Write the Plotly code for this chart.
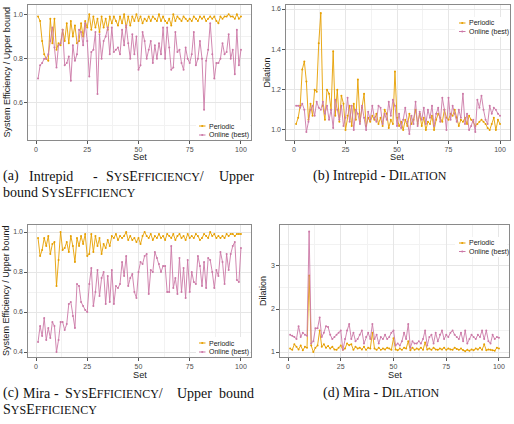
import plotly.graph_objects as go

W, H = 514, 424

sets = list(range(1, 101))

a_periodic = [0.99, 0.97, 0.88, 0.82, 0.80, 0.79, 0.98, 0.87, 0.98, 0.84,
              0.87, 0.86, 0.93, 0.88, 0.96, 0.87, 0.97, 0.90, 0.95, 0.87,
              0.88, 0.96, 0.90, 0.97, 0.94, 1.00, 0.93, 0.99, 0.94, 0.98,
              0.92, 0.99, 0.94, 0.98, 0.93, 0.99, 0.96, 0.99, 0.97, 0.95,
              0.99, 0.96, 1.00, 0.94, 0.99, 0.95, 0.99, 0.97, 1.00, 0.97,
              0.99, 0.96, 0.98, 0.97, 0.99, 0.97, 0.99, 0.98, 0.97, 1.00,
              0.97, 0.99, 0.97, 0.96, 0.98, 0.95, 1.00, 0.97, 0.99, 0.98,
              0.97, 0.99, 0.98, 0.97, 0.98, 0.97, 0.99, 0.98, 0.97, 0.99,
              0.98, 0.99, 0.97, 0.98, 0.99, 0.98, 0.99, 0.97, 0.96, 0.99,
              0.98, 0.99, 0.99, 1.00, 0.99, 0.99, 0.98, 1.00, 0.98, 0.99]
a_online = [0.71, 0.77, 0.78, 0.80, 0.80, 0.82, 0.88, 0.94, 0.85, 0.76,
            0.86, 0.87, 0.93, 0.77, 0.78, 0.81, 0.70, 0.86, 0.79, 0.82,
            0.93, 0.92, 0.86, 0.96, 0.88, 0.72, 0.83, 0.84, 0.92, 0.64,
            0.91, 0.80, 0.88, 0.90, 0.94, 0.82, 0.94, 0.83, 0.84, 0.85,
            0.82, 0.93, 0.86, 0.95, 0.87, 0.80, 0.91, 0.82, 0.90, 0.75,
            0.77, 0.92, 0.88, 0.80, 0.84, 0.88, 0.78, 0.86, 0.80, 0.87,
            0.82, 0.94, 0.80, 0.94, 0.85, 0.75, 0.76, 0.92, 0.83, 0.84,
            0.78, 0.75, 0.85, 0.80, 0.78, 0.82, 0.92, 0.77, 0.80, 0.88,
            0.80, 0.57, 0.79, 0.84, 0.96, 0.82, 0.71, 0.78, 0.78, 0.80,
            0.87, 0.82, 0.83, 0.91, 0.80, 0.84, 0.73, 0.93, 0.77, 0.84]

b_periodic = [1.03, 1.06, 1.12, 1.30, 1.34, 1.24, 1.05, 1.13, 1.07, 1.20,
              1.19, 1.43, 1.58, 1.12, 1.05, 1.20, 1.18, 1.10, 1.39, 1.07,
              1.20, 1.04, 1.17, 1.13, 1.00, 1.07, 1.12, 1.02, 1.13, 1.05,
              1.25, 1.04, 1.11, 1.18, 1.02, 1.06, 1.04, 1.07, 1.05, 1.08,
              1.03, 1.06, 1.02, 1.10, 1.08, 1.01, 1.05, 1.03, 1.29, 1.06,
              1.02, 1.04, 1.00, 1.05, 1.02, 1.08, 1.03, 1.05, 1.10, 1.03,
              1.08, 1.02, 1.06, 1.00, 1.04, 1.03, 1.07, 1.00, 1.05, 1.08,
              1.06, 1.04, 1.10, 1.06, 1.05, 1.08, 1.07, 1.10, 1.06, 1.02,
              1.05, 1.04, 1.06, 1.03, 1.07, 1.05, 1.04, 1.02, 1.03, 1.04,
              1.05, 1.04, 1.03, 1.01, 1.00, 1.03, 1.06, 1.00, 1.05, 1.03]
b_online = [1.12, 1.12, 1.11, 1.13, 1.10, 0.99, 1.04, 1.10, 1.12, 1.07,
            1.14, 1.11, 1.10, 1.14, 1.08, 1.12, 1.05, 1.10, 1.01, 1.15,
            1.10, 1.05, 1.12, 1.02, 1.06, 1.16, 1.04, 1.12, 1.00, 1.10,
            1.08, 1.03, 1.12, 1.06, 1.00, 1.09, 1.05, 1.12, 1.06, 1.04,
            1.12, 1.11, 1.03, 1.08, 1.05, 1.14, 1.07, 1.15, 1.12, 1.02,
            1.08, 1.01, 1.05, 1.11, 1.04, 0.98, 1.07, 1.03, 1.14, 1.02,
            1.09, 1.05, 1.11, 1.03, 1.10, 1.06, 1.12, 1.02, 1.08, 1.11,
            1.04, 1.16, 1.10, 1.00, 1.16, 1.05, 1.12, 1.08, 1.04, 1.10,
            1.06, 1.18, 1.03, 1.08, 1.00, 1.02, 1.05, 0.99, 1.15, 1.11,
            1.17, 1.10, 1.05, 1.03, 1.12, 1.08, 1.11, 1.10, 1.08, 1.07]

c_periodic = [0.97, 0.88, 0.91, 0.97, 0.93, 0.98, 0.89, 0.94, 0.95, 0.73,
              0.86, 1.00, 0.91, 0.92, 0.95, 0.90, 0.98, 0.93, 0.85, 0.97,
              0.93, 0.98, 0.94, 0.99, 0.88, 0.89, 0.99, 0.90, 0.98, 0.93,
              0.97, 0.89, 0.94, 0.92, 0.96, 0.93, 0.98, 0.97, 0.99, 0.96,
              0.98, 0.97, 0.98, 1.00, 0.96, 0.98, 0.96, 0.97, 0.95, 0.97,
              0.94, 0.98, 1.00, 0.98, 0.97, 0.99, 0.96, 0.98, 0.97, 0.99,
              0.97, 0.98, 0.96, 0.99, 0.98, 0.97, 0.99, 0.96, 0.98, 0.99,
              0.97, 0.98, 0.96, 0.99, 0.97, 0.98, 0.97, 0.99, 0.98, 0.96,
              0.97, 0.99, 0.98, 0.97, 1.00, 0.98, 0.99, 0.97, 0.98, 0.97,
              0.98, 0.97, 0.99, 0.98, 0.99, 0.99, 0.98, 0.99, 0.99, 0.99]
c_online = [0.45, 0.53, 0.48, 0.57, 0.46, 0.52, 0.47, 0.55, 0.53, 0.40,
            0.46, 0.55, 0.55, 0.51, 0.54, 0.64, 0.65, 0.58, 0.52, 0.74,
            0.73, 0.65, 0.63, 0.61, 0.60, 0.74, 0.82, 0.63, 0.70, 0.81,
            0.68, 0.77, 0.80, 0.64, 0.78, 0.65, 0.81, 0.64, 0.73, 0.72,
            0.74, 0.85, 0.78, 0.88, 0.73, 0.77, 0.79, 0.70, 0.67, 0.80,
            0.85, 0.84, 0.88, 0.89, 0.69, 0.81, 0.80, 0.90, 0.87, 0.84,
            0.80, 0.83, 0.83, 0.70, 0.70, 0.93, 0.72, 0.77, 0.69, 0.87,
            0.70, 0.82, 0.67, 0.86, 0.70, 0.80, 0.75, 0.74, 0.88, 0.83,
            0.73, 0.85, 0.72, 0.87, 0.86, 0.80, 0.72, 0.81, 0.78, 0.90,
            0.85, 0.74, 0.89, 0.81, 0.89, 0.93, 0.95, 0.76, 0.75, 0.92]

d_periodic = [1.08, 1.05, 1.18, 1.12, 1.06, 1.15, 1.04, 1.12, 1.10, 2.78,
              1.15, 1.00, 1.10, 1.15, 1.50, 1.12, 1.18, 1.10, 1.14, 1.08,
              1.12, 1.06, 1.05, 1.10, 1.15, 1.05, 1.08, 1.20, 1.16, 1.18,
              1.05, 1.12, 1.08, 1.10, 1.06, 1.12, 1.05, 1.10, 1.08, 1.45,
              1.08, 1.05, 1.10, 1.05, 1.08, 1.06, 1.10, 1.08, 1.05, 1.32,
              1.06, 1.04, 1.08, 1.05, 1.10, 1.08, 1.25, 1.04, 1.10, 1.05,
              1.08, 1.06, 1.10, 1.05, 1.22, 1.06, 1.08, 1.05, 1.10, 1.06,
              1.05, 1.08, 1.06, 1.10, 1.05, 1.08, 1.06, 1.05, 1.10, 1.07,
              1.05, 1.08, 1.04, 1.02, 1.05, 1.03, 1.06, 1.04, 1.08, 1.06,
              1.10, 1.05, 1.18, 1.04, 1.06, 1.05, 1.04, 1.03, 1.10, 1.08]
d_online = [1.40, 1.38, 1.35, 1.30, 1.60, 1.35, 1.45, 1.40, 1.38, 3.80,
            1.20, 1.25, 1.55, 1.55, 1.80, 1.35, 1.45, 1.60, 1.58, 1.40,
            1.30, 1.35, 1.40, 1.45, 1.50, 1.05, 1.30, 1.50, 1.65, 1.30,
            1.45, 1.25, 1.30, 1.40, 1.50, 1.20, 1.35, 1.45, 1.30, 1.65,
            1.30, 1.40, 1.20, 1.35, 1.30, 1.40, 1.30, 1.35, 1.45, 1.50,
            1.15, 1.20, 1.15, 1.25, 1.45, 1.30, 1.65, 1.10, 1.25, 1.20,
            1.20, 1.25, 1.20, 1.30, 1.50, 1.15, 1.35, 1.40, 1.20, 1.45,
            1.25, 1.40, 1.50, 1.30, 1.40, 1.35, 1.45, 1.50, 1.40, 1.35,
            1.30, 1.45, 1.25, 1.50, 1.20, 1.30, 1.40, 1.35, 1.30, 1.40,
            1.35, 1.50, 1.30, 1.50, 1.25, 1.20, 1.40, 1.30, 1.35, 1.33]

series_names = ["Periodic", "Online (best)"]
x_ticks = [0, 25, 50, 75, 100]

PER = "#E69F00"
ONL = "#CC79A7"
SANS = "Liberation Sans, Arial, sans-serif"
SERIF = "Liberation Serif, Times New Roman, serif"

def fx(p):
    return p / W

def fy(p):
    return 1 - p / H

panels = [
    dict(data=(a_periodic, a_online), xpx=(27.9, 251.1), ypx=(5, 140), yr=(0.433, 1.042),
         ydt=0.2, ymin=0.1, yfmt=".1f", ytitle="System Efficiency / Upper bound",
         ytx=6, xtitle_x=140, xtitle_y=157, leg="bottom"),
    dict(data=(b_periodic, b_online), xpx=(285.9, 510.2), ypx=(5, 140), yr=(0.95, 1.62),
         ydt=0.2, ymin=0.1, yfmt=".1f", ytitle="Dilation",
         ytx=266, xtitle_x=397, xtitle_y=157, leg="top"),
    dict(data=(c_periodic, c_online), xpx=(27.9, 251.1), ypx=(225, 357), yr=(0.375, 1.035),
         ydt=0.2, ymin=0.1, yfmt=".1f", ytitle="System Efficiency / Upper bound",
         ytx=6, xtitle_x=140, xtitle_y=375, leg="bottom"),
    dict(data=(d_periodic, d_online), xpx=(279.7, 509.4), ypx=(225, 357), yr=(0.884, 3.953),
         ydt=1, ymin=0.5, yfmt="d", ytitle="Dilation",
         ytx=263, xtitle_x=395, xtitle_y=375, leg="top"),
]

fig = go.Figure()
shapes = []
annotations = []
layout_axes = {}

for i, p in enumerate(panels):
    n = "" if i == 0 else str(i + 1)
    per, onl = p["data"]
    for vals, name, col in ((per, series_names[0], PER), (onl, series_names[1], ONL)):
        fig.add_trace(go.Scatter(
            x=sets, y=vals, name=name, mode="lines+markers",
            line=dict(color=col, width=0.9), marker=dict(color=col, size=2),
            xaxis="x" + n, yaxis="y" + n, showlegend=False, hoverinfo="skip"))
    common = dict(showline=True, mirror=True, linecolor="#8a8a8a", linewidth=1,
                  zeroline=False, ticks="outside", ticklen=2.5, tickwidth=0.8,
                  tickcolor="#555555", showgrid=True, gridcolor="#e6e6e6", gridwidth=0.8,
                  tickfont=dict(family=SANS, size=7, color="#4d4d4d"))
    layout_axes["xaxis" + n] = dict(
        common, domain=[fx(p["xpx"][0]), fx(p["xpx"][1])], range=[-3.95, 104.95],
        anchor="y" + n, tickmode="array", tickvals=x_ticks,
        minor=dict(dtick=12.5, tick0=0, showgrid=True, gridcolor="#f2f2f2", gridwidth=0.5))
    layout_axes["yaxis" + n] = dict(
        common, domain=[fy(p["ypx"][1]), fy(p["ypx"][0])], range=list(p["yr"]),
        anchor="x" + n, tickmode="linear", tick0=0, dtick=p["ydt"], tickformat=p["yfmt"],
        minor=dict(dtick=p["ymin"], tick0=0, showgrid=True, gridcolor="#f2f2f2", gridwidth=0.5))

    annotations.append(dict(text="Set", x=fx(p["xtitle_x"]), y=fy(p["xtitle_y"]),
                            xref="paper", yref="paper", showarrow=False,
                            xanchor="center", yanchor="middle",
                            font=dict(family=SANS, size=9.2, color="#1a1a1a")))
    ymid = (p["ypx"][0] + p["ypx"][1]) / 2
    annotations.append(dict(text=p["ytitle"], x=fx(p["ytx"]), y=fy(ymid),
                            xref="paper", yref="paper", showarrow=False, textangle=-90,
                            xanchor="center", yanchor="middle",
                            font=dict(family=SANS, size=9, color="#1a1a1a")))

    # legend key (decoration)
    x_right = p["xpx"][1]
    if p["leg"] == "bottom":
        box = (196, p["ypx"][1] - 20, min(x_right, 251) - 1, p["ypx"][1] - 1)
        rows = (p["ypx"][1] - 14, p["ypx"][1] - 5)
        kx = 199
    else:
        box = (455, p["ypx"][0] + 12, x_right - 2, p["ypx"][0] + 32)
        rows = (p["ypx"][0] + 18, p["ypx"][0] + 26.5)
        kx = 459
    shapes.append(dict(type="rect", xref="paper", yref="paper",
                       x0=fx(box[0]), x1=fx(box[2]), y0=fy(box[3]), y1=fy(box[1]),
                       fillcolor="white", line=dict(width=0), layer="above"))
    for ry, col, name in ((rows[0], PER, series_names[0]), (rows[1], ONL, series_names[1])):
        shapes.append(dict(type="line", xref="paper", yref="paper",
                           x0=fx(kx), x1=fx(kx + 6.5), y0=fy(ry), y1=fy(ry),
                           line=dict(color=col, width=1), layer="above"))
        shapes.append(dict(type="circle", xref="paper", yref="paper",
                           x0=fx(kx + 2.2), x1=fx(kx + 4.3), y0=fy(ry + 1.05), y1=fy(ry - 1.05),
                           fillcolor=col, line=dict(width=0), layer="above"))
        annotations.append(dict(text=name, x=fx(kx + 7.5), y=fy(ry), xref="paper", yref="paper",
                                showarrow=False, xanchor="left", yanchor="middle",
                                font=dict(family=SANS, size=7, color="#1a1a1a")))


def sc(word, small=12):
    out = []
    for ch in word:
        if ch.isupper():
            out.append(ch)
        elif ch.isalpha():
            out.append('<span style="font-size:%gpx">%s</span>' % (small, ch.upper()))
        else:
            out.append(ch)
    return "".join(out)


def cap(text, xpx, ypx, anchor="left"):
    annotations.append(dict(text=text, x=fx(xpx), y=fy(ypx), xref="paper", yref="paper",
                            showarrow=False, xanchor=anchor, yanchor="middle",
                            font=dict(family=SERIF, size=14, color="#111111")))

L1A, L2A, L1C, L2C = 176, 192, 393, 409
cap("(a)", 0.5, L1A)
cap("Intrepid", 27, L1A)
cap("-", 95, L1A, "center")
cap(sc("SysEfficiency") + "/", 104, L1A)
cap("Upper", 256, L1A, "right")
cap("bound " + sc("SysEfficiency"), 0.5, L2A)
cap("(b) Intrepid - " + sc("Dilation"), 311, L1A)
cap("(c)", 0.5, L1C)
cap("Mira", 21, L1C)
cap("-", 56, L1C, "center")
cap(sc("SysEfficiency") + "/", 63, L1C)
cap("Upper", 175, L1C)
cap("bound", 256, L1C, "right")
cap(sc("SysEfficiency"), 0.5, L2C)
cap("(d) Mira - " + sc("Dilation"), 321, L1C)

fig.update_layout(
    width=W, height=H, margin=dict(l=0, r=0, t=0, b=0),
    paper_bgcolor="white", plot_bgcolor="white",
    showlegend=False, shapes=shapes, annotations=annotations,
    **layout_axes)

fig.write_html("out.html")
